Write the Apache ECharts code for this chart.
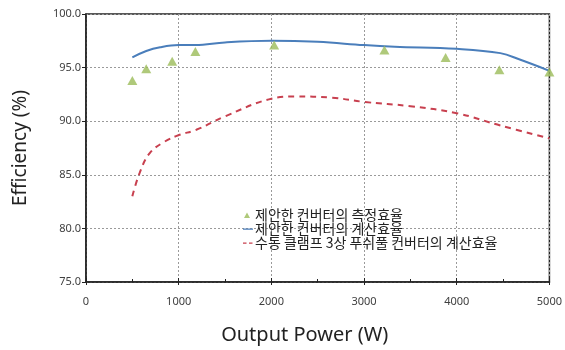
<!DOCTYPE html>
<html>
<head>
<meta charset="utf-8">
<script src="https://cdn.jsdelivr.net/npm/echarts@6/dist/echarts.min.js"></script>
<style>
  html, body { margin: 0; padding: 0; background: #fff; }
  #chart { width: 565px; height: 350px; }
</style>
</head>
<body>
<div id="chart"></div>
<script>
// 측정효율 (삼각형 마커)
const measuredPower = [500, 650, 930, 1180, 2030, 3220, 3880, 4460, 5000]
const measuredEff = [93.8, 94.9, 95.6, 96.5, 97.1, 96.65, 95.95, 94.8, 94.6]

// 제안한 컨버터 계산효율
const calcPower = [500, 650, 800, 1000, 1180, 1500, 2000, 2500, 3000, 3330, 4000, 4470, 4680, 5000]
const calcEff = [95.95, 96.55, 96.9, 97.1, 97.1, 97.35, 97.5, 97.4, 97.1, 96.95, 96.75, 96.35, 95.75, 94.7]

// 수동 클램프 3상 푸쉬풀 컨버터 계산효율
const pushPower = [500, 580, 690, 850, 1000, 1190, 1500, 2000, 2250, 2650, 3000, 3500, 4000, 4470, 5000]
const pushEff = [83.0, 85.2, 87.05, 88.1, 88.7, 89.2, 90.45, 92.1, 92.3, 92.2, 91.8, 91.4, 90.75, 89.6, 88.4]

const seriesNames = [
  '제안한 컨버터의 측정효율',
  '제안한 컨버터의 계산효율',
  '수동 클램프 3상 푸쉬풀 컨버터의 계산효율'
]

const toPairs = (xs, ys) => xs.map((x, i) => [x, ys[i]])

const chart = echarts.init(document.getElementById('chart'))
const labelColor = '#404040'
const font = '"Noto Sans", "Noto Sans CJK KR", sans-serif'

// 범례 아이콘 (bbox 를 맞추려고 빈 점을 넣음)
const triIcon = 'path://M0,0L0,0ZM3,7L6,1.5L9,7ZM12,8L12,8Z'
const solidIcon = 'path://M0,0L0,0ZM2,3.5H12V4.7H2ZM12,8L12,8Z'
const dashIcon = 'path://M0,0L0,0ZM2,3.5H5.5V4.7H2ZM8,3.5H11.5V4.7H8ZM12,8L12,8Z'

chart.setOption({
  animation: false,
  textStyle: { fontFamily: font },
  grid: {
    left: 86,
    right: 12,
    top: 14,
    bottom: 67,
    show: true,
    borderColor: '#222',
    borderWidth: 1.5
  },
  legend: {
    orient: 'vertical',
    left: 236,
    top: 203,
    itemWidth: 12,
    itemHeight: 8,
    itemGap: 0,
    selectedMode: false,
    textStyle: {
      fontSize: 14,
      lineHeight: 14,
      color: '#222',
      fontFamily: '"Noto Sans CJK KR", sans-serif',
      padding: [0, 0, 0, -3]
    },
    data: [
      { name: seriesNames[0], icon: triIcon, itemStyle: { color: '#9bbb59' } },
      { name: seriesNames[1], icon: solidIcon, itemStyle: { color: '#4a7ebb' } },
      { name: seriesNames[2], icon: dashIcon, itemStyle: { color: '#c8404f' } }
    ]
  },
  xAxis: [
    {
      type: 'value',
      min: 0,
      max: 5000,
      interval: 1000,
      name: 'Output Power (W)',
      nameLocation: 'middle',
      nameGap: 43,
      nameTextStyle: { fontSize: 20, color: '#222', padding: [0, 26, 0, 0] },
      axisLine: { onZero: false, lineStyle: { color: '#222', width: 1.5 } },
      axisTick: { inside: true, length: 4, lineStyle: { color: '#222' } },
      minorTick: { show: true, splitNumber: 2, length: 3, lineStyle: { color: '#222' } },
      axisLabel: { fontSize: 11, color: labelColor, margin: 14, formatter: v => String(v) },
      splitLine: { show: true, lineStyle: { color: '#9a9a9a', type: [2, 2] } }
    },
    {
      type: 'value',
      position: 'bottom',
      min: 0,
      max: 5000,
      interval: 1000,
      axisLine: { show: false },
      axisTick: { show: true, length: 3, lineStyle: { color: '#222' } },
      axisLabel: { show: false },
      splitLine: { show: false }
    }
  ],
  yAxis: {
    type: 'value',
    min: 75,
    max: 100,
    interval: 5,
    name: 'Efficiency (%)',
    nameLocation: 'middle',
    nameGap: 56,
    nameTextStyle: { fontSize: 19, color: '#222' },
    axisLine: { show: true, onZero: false, lineStyle: { color: '#222', width: 1.5 } },
    axisTick: { show: true, length: 4, lineStyle: { color: '#222' } },
    axisLabel: {
      fontSize: 11,
      color: labelColor,
      margin: 5,
      formatter: v => v.toFixed(1)
    },
    splitLine: { show: true, lineStyle: { color: '#9a9a9a', type: [2, 2] } }
  },
  series: [
    {
      name: seriesNames[0],
      type: 'scatter',
      symbol: 'triangle',
      symbolSize: [10, 9],
      itemStyle: { color: '#9bbb59' },
      data: toPairs(measuredPower, measuredEff),
      z: 5
    },
    {
      name: seriesNames[1],
      type: 'line',
      smooth: 0.4,
      showSymbol: false,
      symbol: 'none',
      lineStyle: { color: '#4a7ebb', width: 2 },
      itemStyle: { color: '#4a7ebb' },
      data: toPairs(calcPower, calcEff)
    },
    {
      name: seriesNames[2],
      type: 'line',
      smooth: 0.4,
      showSymbol: false,
      symbol: 'none',
      lineStyle: { color: '#c8404f', width: 2, type: [6, 5] },
      itemStyle: { color: '#c8404f' },
      data: toPairs(pushPower, pushEff)
    }
  ]
})
</script>
</body>
</html>
